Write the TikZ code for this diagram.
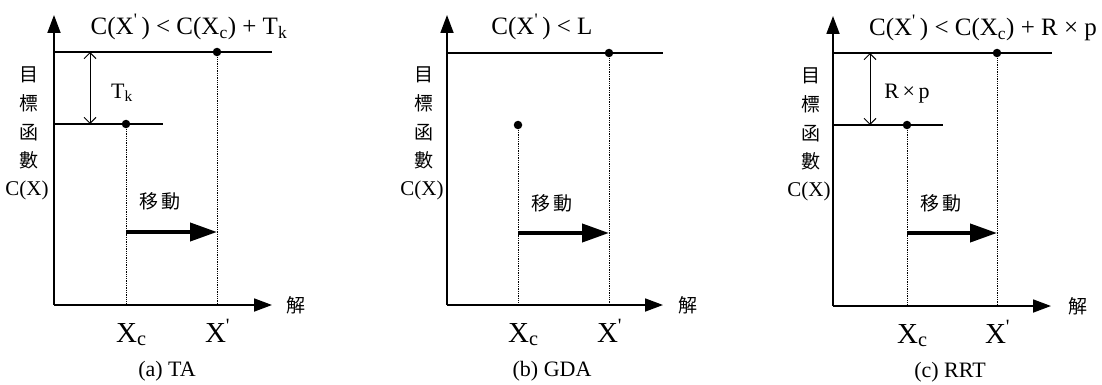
\documentclass[tikz,border=0pt]{standalone}
\usepackage{fontspec}
\setmainfont{Liberation Serif}
\newfontfamily\cjk{Noto Sans CJK TC}
\usetikzlibrary{arrows.meta}
\newcommand\fsz[1]{\fontsize{#1}{#1}\selectfont}
\newcommand\pr{\textsuperscript{\textquotesingle}\,}
\tikzset{
  axisline/.style={line width=1.8pt, -{Triangle[length=18pt,width=13pt]}},
  levelline/.style={line width=1.2pt},
  guide/.style={line width=1pt, dash pattern=on 1.3pt off 1pt},
  dotpt/.style={circle, fill=black, inner sep=0pt, minimum size=8.5pt},
  gap/.style={line width=1pt, {Straight Barb[length=6pt,width=12pt]}-{Straight Barb[length=6pt,width=12pt]}},
  move/.style={line width=4pt, -{Triangle[length=27pt,width=18pt]}},
  formula/.style={inner sep=0pt, font=\fsz{25}},
  cjklbl/.style={inner sep=0pt, font=\cjk\fsz{19}},
  cxlbl/.style={inner sep=0pt, font=\fsz{21}},
  xlbl/.style={inner sep=0pt, font=\fsz{29}},
  gaplbl/.style={inner sep=0pt, font=\fsz{22}},
  caption/.style={inner sep=0pt, font=\fsz{22}},
}
\begin{document}
\begin{tikzpicture}[x=1pt,y=-1pt]
\useasboundingbox (0,0) rectangle (1102,385);
% ---------------- (a) TA ----------------
\begin{scope}[shift={(54,305)}]
  \coordinate (aO) at (0,0);
  \coordinate (aY) at (0,-290);
  \coordinate (aX) at (218,0);
  \coordinate (aT0) at (0,-253); \coordinate (aT1) at (218,-253);
  \coordinate (aL0) at (0,-181); \coordinate (aL1) at (109,-181);
  \draw[levelline] (aT0) -- (aT1);
  \draw[levelline] (aL0) -- (aL1);
  \node[dotpt] (aPc) at (72,-181) {};
  \node[dotpt] (aPn) at (163,-253) {};
  \coordinate (aBc) at (72,0); \coordinate (aBn) at (163,0);
  \draw[guide] (aPc.center) -- (aBc);
  \draw[guide] (aPn.center) -- (aBn);
  \coordinate (aG0) at (36,-253); \coordinate (aG1) at (36,-181);
  \draw[gap] (aG0) -- (aG1);
  \node[gaplbl] (aGl) at (68,-212) {T\textsubscript{k}};
  \coordinate (aM0) at (72,-73); \coordinate (aM1) at (163,-73);
  \draw[move] (aM0) -- (aM1);
  \draw[axisline] (aO) -- (aY);
  \draw[axisline] (aO) -- (aX);
  \node[formula] (aF) at (135,-278) {C(X\pr) < C(X\textsubscript{c}) + T\textsubscript{k}};
  \node[cjklbl] (aC1) at (-25,-230) {目};
  \node[cjklbl] (aC2) at (-25,-202) {標};
  \node[cjklbl] (aC3) at (-25,-172) {函};
  \node[cjklbl] (aC4) at (-25,-145) {數};
  \node[cxlbl] (aC5) at (-27,-115) {C(X)};
  \node[cjklbl, font=\cjk\fsz{19}] (aMv) at (106,-104) {移\,動};
  \node[xlbl, anchor=base west] (aXc) at (62,37) {X\textsubscript{c}};
  \node[xlbl, anchor=base] (aXn) at (166,37) {X\pr};
  \node[cjklbl] (aS) at (242,0) {解};
  \node[caption] (aCap) at (113,66) {(a) TA};
\end{scope}
% ---------------- (b) GDA ----------------
\begin{scope}[shift={(447,305)}]
  \coordinate (bO) at (0,0);
  \coordinate (bY) at (0,-290);
  \coordinate (bX) at (216,0);
  \coordinate (bT0) at (0,-252); \coordinate (bT1) at (216,-252);
  \draw[levelline] (bT0) -- (bT1);
  \node[dotpt] (bPc) at (71,-180) {};
  \node[dotpt] (bPn) at (162,-252) {};
  \coordinate (bBc) at (71,0); \coordinate (bBn) at (162,0);
  \draw[guide] (bPc.center) -- (bBc);
  \draw[guide] (bPn.center) -- (bBn);
  \coordinate (bM0) at (71,-72); \coordinate (bM1) at (162,-72);
  \draw[move] (bM0) -- (bM1);
  \draw[axisline] (bO) -- (bY);
  \draw[axisline] (bO) -- (bX);
  \node[formula] (bF) at (95,-278) {C(X\pr) < L};
  \node[cjklbl] (bC1) at (-23,-230) {目};
  \node[cjklbl] (bC2) at (-23,-202) {標};
  \node[cjklbl] (bC3) at (-23,-172) {函};
  \node[cjklbl] (bC4) at (-23,-145) {數};
  \node[cxlbl] (bC5) at (-25,-115) {C(X)};
  \node[cjklbl] (bMv) at (105,-102) {移\,動};
  \node[xlbl, anchor=base west] (bXc) at (61,37) {X\textsubscript{c}};
  \node[xlbl, anchor=base] (bXn) at (165,37) {X\pr};
  \node[cjklbl] (bS) at (241,0) {解};
  \node[caption] (bCap) at (105,66) {(b) GDA};
\end{scope}
% ---------------- (c) RRT ----------------
\begin{scope}[shift={(833,306)}]
  \coordinate (cO) at (0,0);
  \coordinate (cY) at (0,-290);
  \coordinate (cX) at (218,0);
  \coordinate (cT0) at (0,-253); \coordinate (cT1) at (219,-253);
  \coordinate (cL0) at (0,-181); \coordinate (cL1) at (110,-181);
  \draw[levelline] (cT0) -- (cT1);
  \draw[levelline] (cL0) -- (cL1);
  \node[dotpt] (cPc) at (74,-181) {};
  \node[dotpt] (cPn) at (164,-253) {};
  \coordinate (cBc) at (74,0); \coordinate (cBn) at (164,0);
  \draw[guide] (cPc.center) -- (cBc);
  \draw[guide] (cPn.center) -- (cBn);
  \coordinate (cG0) at (37,-253); \coordinate (cG1) at (37,-181);
  \draw[gap] (cG0) -- (cG1);
  \node[gaplbl] (cGl) at (74,-212) {R\,×\,p};
  \coordinate (cM0) at (74,-73); \coordinate (cM1) at (164,-73);
  \draw[move] (cM0) -- (cM1);
  \draw[axisline] (cO) -- (cY);
  \draw[axisline] (cO) -- (cX);
  \node[formula] (cF) at (150,-278) {C(X\pr) < C(X\textsubscript{c}) + R × p};
  \node[cjklbl] (cC1) at (-22,-230) {目};
  \node[cjklbl] (cC2) at (-22,-202) {標};
  \node[cjklbl] (cC3) at (-22,-172) {函};
  \node[cjklbl] (cC4) at (-22,-145) {數};
  \node[cxlbl] (cC5) at (-24,-115) {C(X)};
  \node[cjklbl] (cMv) at (108,-103) {移\,動};
  \node[xlbl, anchor=base west] (cXc) at (64,37) {X\textsubscript{c}};
  \node[xlbl, anchor=base] (cXn) at (167,37) {X\pr};
  \node[cjklbl] (cS) at (245,0) {解};
  \node[caption] (cCap) at (117,66) {(c) RRT};
\end{scope}
\end{tikzpicture}
\end{document}
